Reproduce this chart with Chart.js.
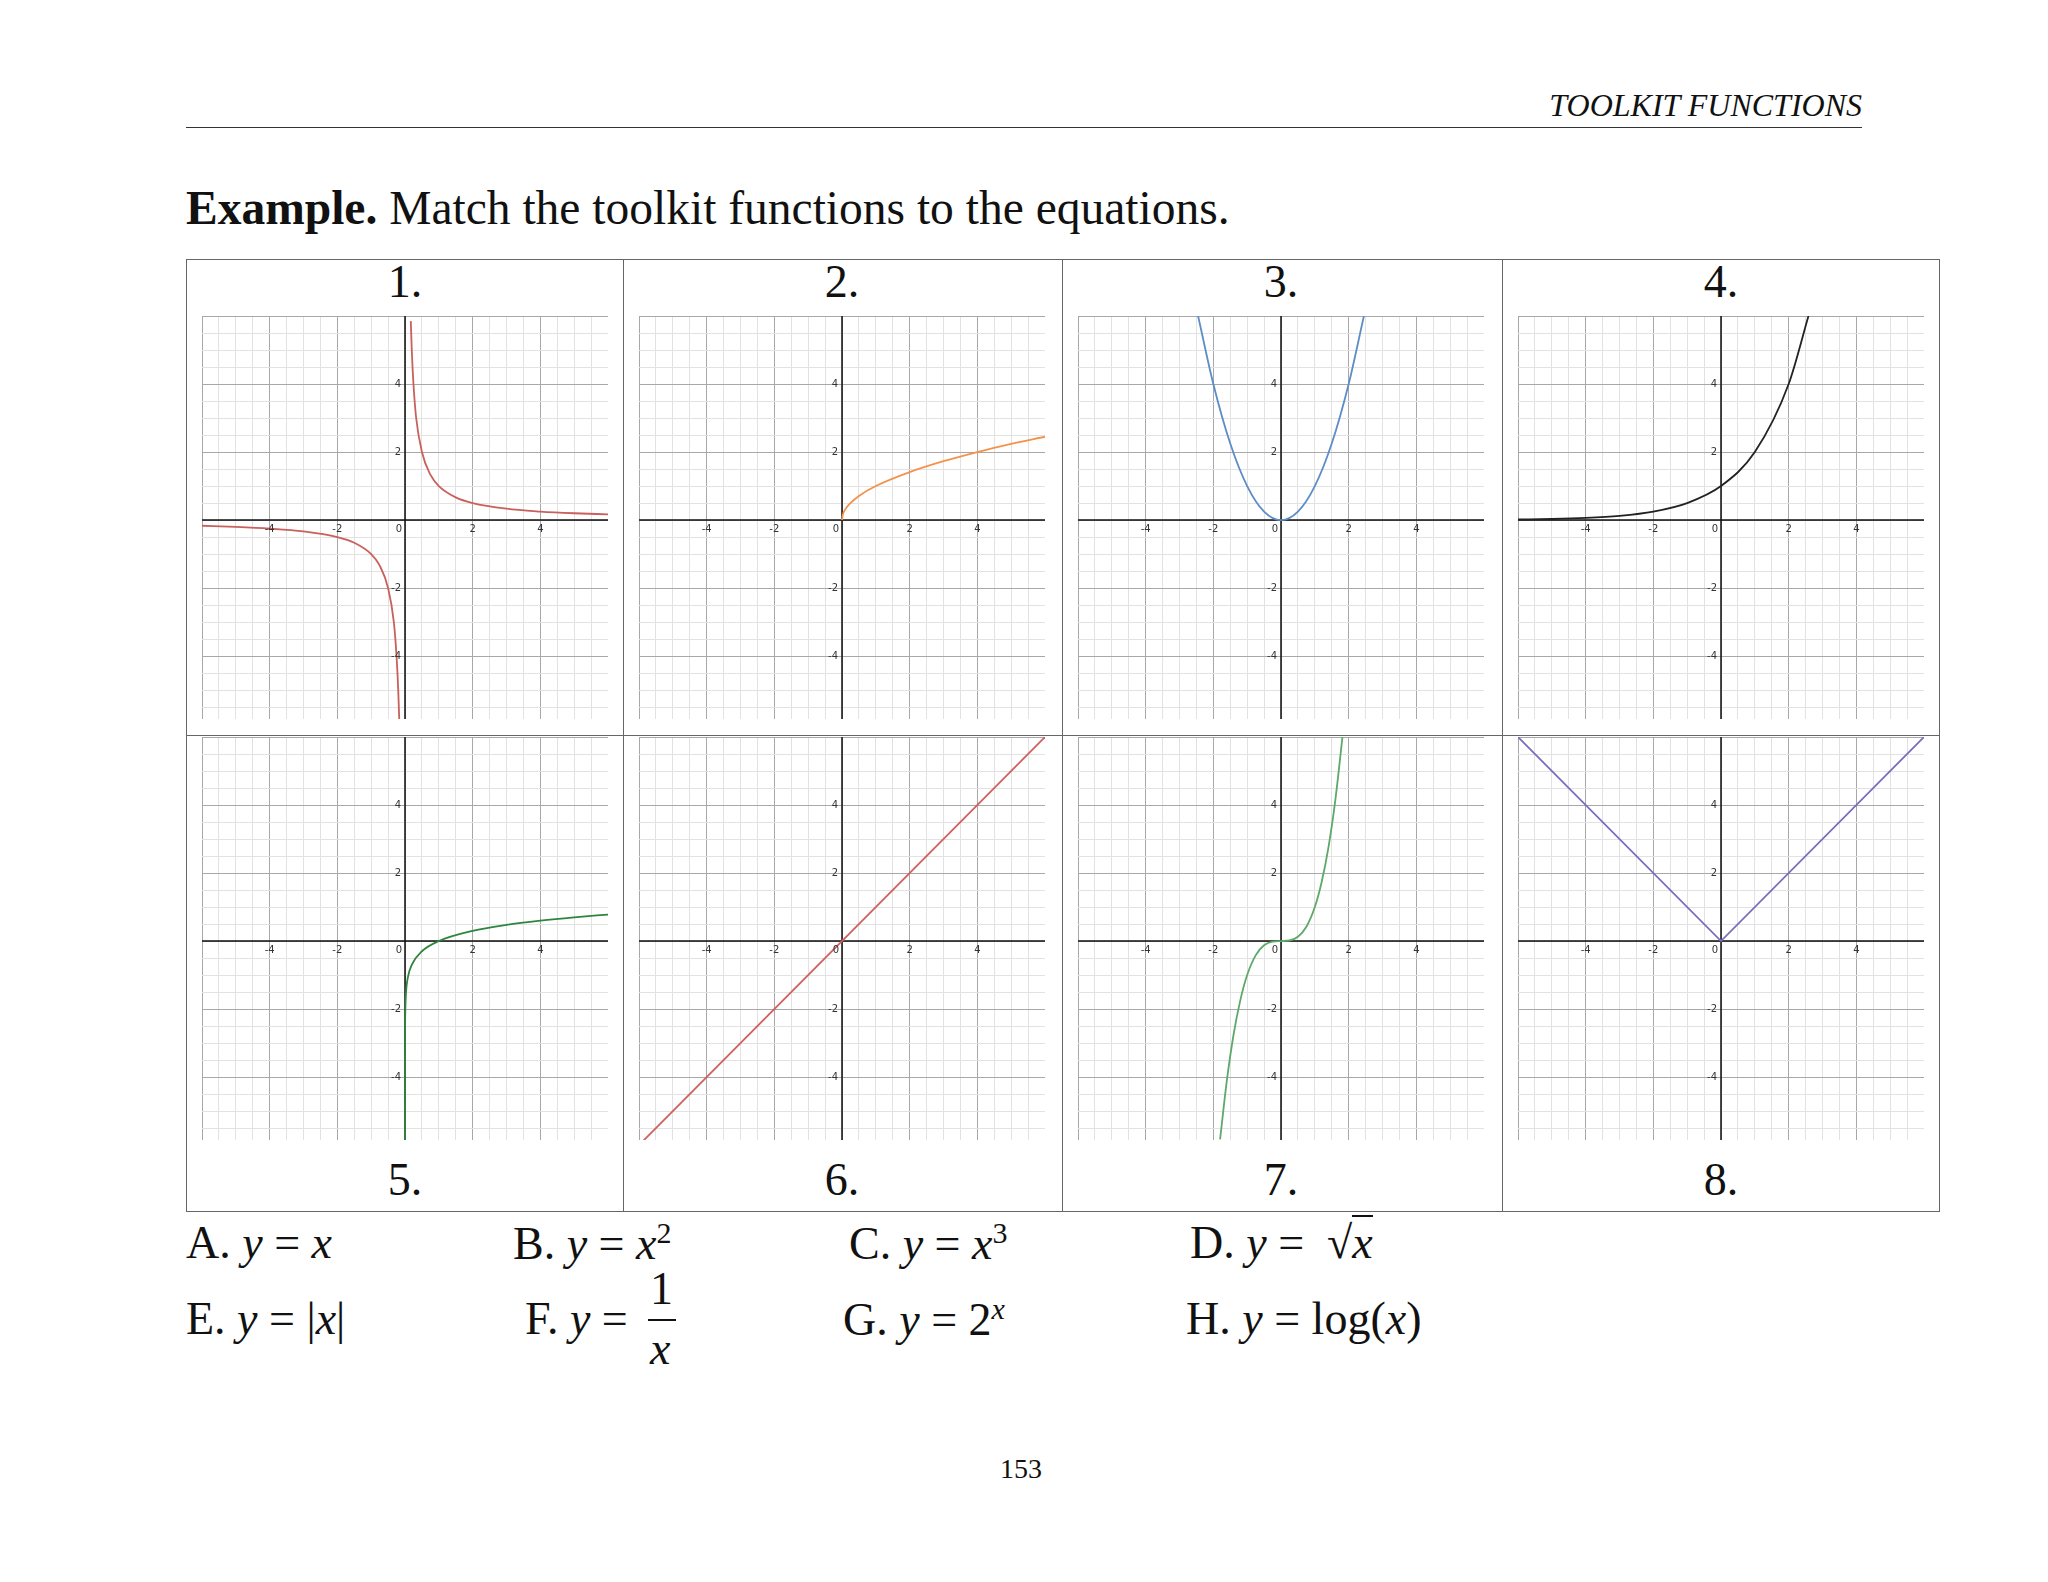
<!DOCTYPE html>
<html><head><meta charset="utf-8">
<script src="https://cdn.jsdelivr.net/npm/chart.js@4"></script>
<style>
body{margin:0;width:2048px;height:1582px;background:#fff;position:relative;font-family:"Liberation Serif","DejaVu Serif",serif;color:#111;overflow:hidden}
.a{position:absolute;white-space:nowrap}
.cv{position:absolute;width:406px;height:403px}
.m{font-style:italic}
</style></head><body>
<div class="a" style="right:186px;top:87px;font-size:32px;font-style:italic">TOOLKIT FUNCTIONS</div>
<div class="a" style="left:186px;top:127px;width:1676px;height:1px;background:#333"></div>
<div class="a" style="left:186px;top:181px;font-size:47.5px"><b>Example.</b> Match the toolkit functions to the equations.</div>
<div class="a" style="left:186px;top:259px;width:1754px;height:953px;border:1.5px solid #666;box-sizing:border-box"></div>
<div class="a" style="left:186px;top:735px;width:1754px;height:1px;background:#666"></div>
<div class="a" style="left:623px;top:259px;width:1px;height:953px;background:#666"></div>
<div class="a" style="left:1062px;top:259px;width:1px;height:953px;background:#666"></div>
<div class="a" style="left:1502px;top:259px;width:1px;height:953px;background:#666"></div>
<div id="labels"></div>
<canvas id="c0" class="cv" width="406" height="403"></canvas><canvas id="c1" class="cv" width="406" height="403"></canvas><canvas id="c2" class="cv" width="406" height="403"></canvas><canvas id="c3" class="cv" width="406" height="403"></canvas>
<canvas id="c4" class="cv" width="406" height="403"></canvas><canvas id="c5" class="cv" width="406" height="403"></canvas><canvas id="c6" class="cv" width="406" height="403"></canvas><canvas id="c7" class="cv" width="406" height="403"></canvas>
<div class="a" style="left:186px;top:1216px;font-size:46px">A. <span class="m">y</span> = <span class="m">x</span></div>
<div class="a" style="left:513px;top:1216px;font-size:46px">B. <span class="m">y</span> = <span class="m">x</span><sup style="font-size:30px">2</sup></div>
<div class="a" style="left:849px;top:1216px;font-size:46px">C. <span class="m">y</span> = <span class="m">x</span><sup style="font-size:30px">3</sup></div>
<div class="a" style="left:1190px;top:1216px;font-size:46px">D. <span class="m">y</span> = &nbsp;√<span class="m" style="border-top:2px solid #111">x</span></div>
<div class="a" style="left:186px;top:1292px;font-size:46px">E. <span class="m">y</span> = |<span class="m">x</span>|</div>
<div class="a" style="left:525px;top:1292px;font-size:46px">F. <span class="m">y</span> = </div>
<div class="a" style="left:650px;top:1262px;font-size:46px">1</div>
<div class="a" style="left:648px;top:1319px;width:28px;height:2px;background:#111"></div>
<div class="a m" style="left:650px;top:1322px;font-size:46px">x</div>
<div class="a" style="left:843px;top:1292px;font-size:46px">G. <span class="m">y</span> = 2<sup class="m" style="font-size:30px">x</sup></div>
<div class="a" style="left:1186px;top:1292px;font-size:46px">H. <span class="m">y</span> = log(<span class="m">x</span>)</div>
<div class="a" style="left:1000px;top:1453px;font-size:28px">153</div>
<script>
const panelNames=["1.","2.","3.","4.","5.","6.","7.","8."];
const xTickLabels=[-4,-2,0,2,4];
const yTickLabels=[-4,-2,2,4];
const colors=["#c9605c","#f5924a","#5d8dc6","#222222","#2e8540","#d06060","#5ea86a","#7a6cc0"];
const recipRX=[0.171,0.2,0.25,0.33,0.5,0.75,1,1.5,2,3,4,5,6];
const recipRY=[5.85,5,4,3,2,1.333,1,0.667,0.5,0.333,0.25,0.2,0.167];
const recipLX=[-6,-5,-4,-3,-2,-1.5,-1,-0.75,-0.5,-0.33,-0.25,-0.2,-0.171];
const recipLY=[-0.167,-0.2,-0.25,-0.333,-0.5,-0.667,-1,-1.333,-2,-3,-4,-5,-5.85];
const sqrtX=[0,0.02,0.1,0.25,0.5,1,2,3,4,5,6];
const sqrtY=[0,0.14,0.32,0.5,0.71,1,1.41,1.73,2,2.24,2.45];
const sqX=[-2.45,-2,-1.5,-1,-0.5,0,0.5,1,1.5,2,2.45];
const sqY=[6,4,2.25,1,0.25,0,0.25,1,2.25,4,6];
const expX=[-6,-5,-4,-3,-2,-1,0,1,2,2.585];
const expY=[0.016,0.031,0.0625,0.125,0.25,0.5,1,2,4,6];
const logX=[0.0000014,0.00001,0.0001,0.001,0.005,0.01,0.03,0.1,0.2,0.5,1,2,3,4,5,6];
const logY=[-5.85,-5,-4,-3,-2.3,-2,-1.52,-1,-0.7,-0.3,0,0.3,0.477,0.602,0.699,0.778];
const linX=[-6,6];
const linY=[-6,6];
const cubeX=[-1.8,-1.6,-1.4,-1.2,-1,-0.75,-0.5,-0.25,0,0.25,0.5,0.75,1,1.2,1.4,1.6,1.817];
const cubeY=[-5.83,-4.1,-2.74,-1.73,-1,-0.42,-0.125,-0.016,0,0.016,0.125,0.42,1,1.73,2.74,4.1,6];
const absX=[-6,0,6];
const absY=[6,0,6];
const series=[[[recipRX,recipRY],[recipLX,recipLY]],[[sqrtX,sqrtY]],[[sqX,sqY]],[[expX,expY]],[[logX,logY]],[[linX,linY]],[[cubeX,cubeY]],[[absX,absY]]];
const smooth=[true,true,true,true,true,false,true,false];
const colLeft=[186,623,1062,1502];
const lab=document.getElementById('labels');
panelNames.forEach((n,i)=>{const d=document.createElement('div');d.className='a';d.style.cssText=`left:${colLeft[i%4]}px;width:438px;text-align:center;top:${i<4?255:1153}px;font-size:46px`;d.textContent=n;lab.appendChild(d);});
const tickPlugin={id:'tk',
beforeDatasetsDraw(ch){const c=ch.ctx,xs=ch.scales.x,ys=ch.scales.y,a=ch.chartArea;const x0=xs.getPixelForValue(0),y0=ys.getPixelForValue(0);c.save();c.strokeStyle='#111';c.lineWidth=1.5;c.beginPath();c.moveTo(a.left,y0);c.lineTo(a.right,y0);c.moveTo(x0,a.top);c.lineTo(x0,a.bottom);c.stroke();c.restore();},
afterDraw(ch){const c=ch.ctx,xs=ch.scales.x,ys=ch.scales.y;const x0=xs.getPixelForValue(0),y0=ys.getPixelForValue(0);c.save();c.fillStyle='#333';c.font='10px "DejaVu Sans"';c.textAlign='center';c.textBaseline='top';
xTickLabels.forEach(v=>{c.fillText(String(v),xs.getPixelForValue(v)+(v===0?-6:0),y0+4);});
c.textAlign='right';c.textBaseline='middle';yTickLabels.forEach(v=>c.fillText(String(v),x0-4,ys.getPixelForValue(v)));c.restore();}};
const gc=ctx=>{const v=ctx.tick.value;if(Math.abs(v%2)<1e-9)return'#a8a8a8';return'#e2e2e2';};
series.forEach((s,i)=>{const el=document.getElementById('c'+i);el.style.left=(colLeft[i%4]+16)+'px';el.style.top=(i<4?316:737)+'px';
new Chart(el,{type:'scatter',data:{datasets:s.map(([xs,ys])=>({data:xs.map((x,k)=>({x,y:ys[k]})),showLine:true,borderColor:colors[i],borderWidth:1.8,pointRadius:0,tension:0,cubicInterpolationMode:smooth[i]?'monotone':'default'}))},
options:{responsive:false,maintainAspectRatio:false,animation:false,devicePixelRatio:1,layout:{padding:0},plugins:{legend:{display:false},tooltip:{enabled:false}},
scales:{x:{type:'linear',min:-6,max:6,ticks:{display:false,stepSize:0.5,includeBounds:false},grid:{color:gc,lineWidth:1,drawTicks:false},border:{display:false}},
y:{type:'linear',min:-5.85,max:6,ticks:{display:false,stepSize:0.5,includeBounds:false},grid:{color:gc,lineWidth:1,drawTicks:false},border:{display:false}}}},plugins:[tickPlugin]});});
</script></body></html>
